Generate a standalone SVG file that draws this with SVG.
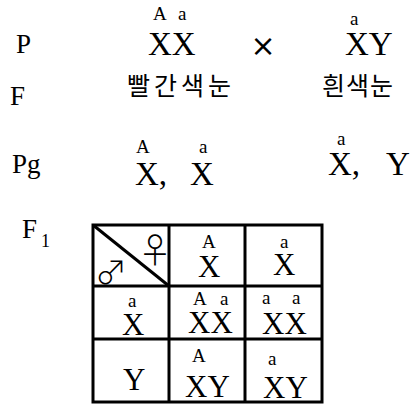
<svg xmlns="http://www.w3.org/2000/svg" width="411" height="404" viewBox="0 0 411 404">
<style>
.s{font-family:"Liberation Serif","Times New Roman",serif;fill:#000}
.lab{font-size:27px}
.big{font-size:33px}
.mid{font-size:31px}
.sup{font-size:19px}
.kr{font-family:"Noto Sans CJK KR",sans-serif;font-size:25px;font-weight:400;fill:#000}
.sym{font-family:"DejaVu Sans",sans-serif;fill:#000}
.gs{font-family:"Noto Sans CJK KR","DejaVu Sans",sans-serif;font-weight:300;fill:#000}
.grid{fill:none;stroke:#000;stroke-width:3}
</style>
<rect width="411" height="404" fill="#fff"/>
<g id="labels">
<text class="s lab" x="16" y="53">P</text>
<text class="s lab" x="10" y="105">F</text>
<text class="s lab" x="12" y="173">Pg</text>
<text class="s lab" x="22" y="238">F</text>
<text class="s" font-size="18" x="41" y="247">1</text>
</g>
<g id="parent-female">
<text class="s sup" x="153" y="20">A</text>
<text class="s sup" x="178" y="20">a</text>
<text class="s big" x="148" y="55">XX</text>
<text class="kr" x="127" y="95" letter-spacing="4">빨간색눈</text>
</g>
<g id="cross">
<text class="sym" font-size="30" x="263" y="56" text-anchor="middle">×</text>
</g>
<g id="parent-male">
<text class="s sup" x="350" y="25">a</text>
<text class="s big" x="345" y="55">XY</text>
<text class="kr" x="322" y="95" letter-spacing="1">흰색눈</text>
</g>
<g id="gametes-female">
<text class="s sup" x="136" y="153">A</text>
<text class="s big" x="135" y="185">X,</text>
<text class="s sup" x="199" y="153">a</text>
<text class="s big" x="190" y="185">X</text>
</g>
<g id="gametes-male">
<text class="s sup" x="337" y="145">a</text>
<text class="s big" x="328" y="175">X,</text>
<text class="s big" x="386" y="175">Y</text>
</g>
<g id="table">
<rect class="grid" x="93" y="225" width="229" height="177"/>
<line class="grid" x1="169" y1="225" x2="169" y2="402"/>
<line class="grid" x1="245" y1="225" x2="245" y2="402"/>
<line class="grid" x1="93" y1="286" x2="322" y2="286"/>
<line class="grid" x1="93" y1="339" x2="322" y2="339"/>
<line class="grid" x1="93" y1="225" x2="169" y2="286"/>
</g>
<g id="header">
<text class="gs" font-size="34" x="155" y="263" text-anchor="middle">♀</text>
<text class="gs" font-size="32" x="111" y="284" text-anchor="middle">♂</text>
</g>
<g id="cell-0-1">
<text class="s sup" x="202" y="248">A</text>
<text class="s mid" x="198" y="277">X</text>
</g>
<g id="cell-0-2">
<text class="s sup" x="280" y="248">a</text>
<text class="s mid" x="273" y="275">X</text>
</g>
<g id="cell-1-0">
<text class="s sup" x="128" y="307">a</text>
<text class="s mid" x="122" y="335">X</text>
</g>
<g id="cell-1-1">
<text class="s sup" x="193" y="305">A</text>
<text class="s sup" x="220" y="305">a</text>
<text class="s mid" x="188" y="333">XX</text>
</g>
<g id="cell-1-2">
<text class="s sup" x="262" y="304">a</text>
<text class="s sup" x="292" y="304">a</text>
<text class="s mid" x="262" y="334">XX</text>
</g>
<g id="cell-2-0">
<text class="s mid" x="123" y="390">Y</text>
</g>
<g id="cell-2-1">
<text class="s sup" x="192" y="362">A</text>
<text class="s mid" x="185" y="397">XY</text>
</g>
<g id="cell-2-2">
<text class="s sup" x="268" y="365">a</text>
<text class="s mid" x="263" y="398">XY</text>
</g>
</svg>
